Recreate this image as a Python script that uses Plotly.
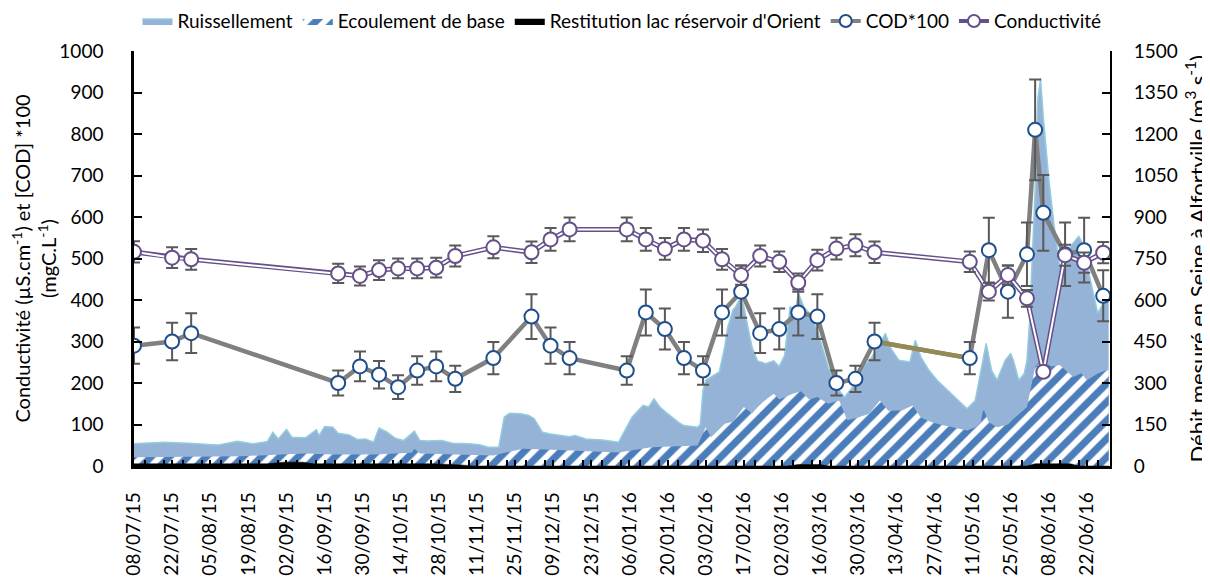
import plotly.graph_objects as go

# ---------------- data ----------------
# Weekly sampling campaigns
dates_cod = ["2015-07-08", "2015-07-22", "2015-07-29", "2015-09-21", "2015-09-29", "2015-10-06",
             "2015-10-13", "2015-10-20", "2015-10-27", "2015-11-03", "2015-11-17", "2015-12-01",
             "2015-12-08", "2015-12-15", "2016-01-05", "2016-01-12", "2016-01-19", "2016-01-26",
             "2016-02-02", "2016-02-09", "2016-02-16", "2016-02-23", "2016-03-01", "2016-03-08",
             "2016-03-15", "2016-03-22", "2016-03-29", "2016-04-05", "2016-05-10", "2016-05-17",
             "2016-05-24", "2016-05-31", "2016-06-03", "2016-06-06", "2016-06-14", "2016-06-21",
             "2016-06-28"]
cod_x100 = [290, 300, 320, 200, 240, 220, 190, 230, 240, 210, 260, 360, 290, 260, 230, 370, 330, 260,
            230, 370, 420, 320, 330, 370, 360, 200, 210, 300, 260, 520, 420, 510, 810, 610, 510, 520, 410]

dates_cond = ["2015-07-08", "2015-07-22", "2015-07-29", "2015-09-21", "2015-09-29", "2015-10-06",
              "2015-10-13", "2015-10-20", "2015-10-27", "2015-11-03", "2015-11-17", "2015-12-01",
              "2015-12-08", "2015-12-15", "2016-01-05", "2016-01-12", "2016-01-19", "2016-01-26",
              "2016-02-02", "2016-02-09", "2016-02-16", "2016-02-23", "2016-03-01", "2016-03-08",
              "2016-03-15", "2016-03-22", "2016-03-29", "2016-04-05", "2016-05-10", "2016-05-17",
              "2016-05-24", "2016-05-31", "2016-06-06", "2016-06-14", "2016-06-21", "2016-06-28"]
conductivite = [516, 502, 498, 464, 458, 472, 476, 476, 478, 506, 527, 515, 546, 570, 570, 546, 523, 546,
                543, 498, 460, 506, 492, 442, 496, 524, 532, 515, 492, 420, 460, 404, 227, 508, 490, 514]

# Measured discharge of the Seine at Alfortville (top of the stacked areas, m3/s)
dates_debit = ["2015-07-08", "2015-07-19", "2015-07-28", "2015-08-08", "2015-08-15", "2015-08-21",
               "2015-08-26", "2015-08-28", "2015-08-30", "2015-09-02", "2015-09-04", "2015-09-09",
               "2015-09-13", "2015-09-14", "2015-09-16", "2015-09-19", "2015-09-21", "2015-09-25",
               "2015-09-28", "2015-10-01", "2015-10-04", "2015-10-06", "2015-10-09", "2015-10-12",
               "2015-10-15", "2015-10-19", "2015-10-21", "2015-10-24", "2015-10-29", "2015-11-02",
               "2015-11-08", "2015-11-12", "2015-11-15", "2015-11-19", "2015-11-21", "2015-11-23",
               "2015-11-27", "2015-11-30", "2015-12-02", "2015-12-05", "2015-12-08", "2015-12-15",
               "2015-12-17", "2015-12-21", "2015-12-27", "2016-01-02", "2016-01-07", "2016-01-11",
               "2016-01-13", "2016-01-15", "2016-01-17", "2016-01-20", "2016-01-24", "2016-01-26",
               "2016-01-31", "2016-02-01", "2016-02-02", "2016-02-03", "2016-02-05", "2016-02-08",
               "2016-02-10", "2016-02-11", "2016-02-13", "2016-02-14", "2016-02-16", "2016-02-17",
               "2016-02-20", "2016-02-22", "2016-02-25", "2016-02-28", "2016-03-01", "2016-03-03",
               "2016-03-05", "2016-03-07", "2016-03-08", "2016-03-10", "2016-03-12", "2016-03-15",
               "2016-03-19", "2016-03-23", "2016-03-25", "2016-03-27", "2016-03-30", "2016-04-01",
               "2016-04-04", "2016-04-06", "2016-04-09", "2016-04-11", "2016-04-14", "2016-04-18",
               "2016-04-20", "2016-04-22", "2016-04-25", "2016-04-28", "2016-05-02", "2016-05-06",
               "2016-05-09", "2016-05-12", "2016-05-14", "2016-05-16", "2016-05-18", "2016-05-20",
               "2016-05-23", "2016-05-25", "2016-05-26", "2016-05-28", "2016-05-30", "2016-05-31",
               "2016-06-01", "2016-06-03", "2016-06-04", "2016-06-05", "2016-06-06", "2016-06-08",
               "2016-06-10", "2016-06-12", "2016-06-14", "2016-06-16", "2016-06-19", "2016-06-21",
               "2016-06-23", "2016-06-26", "2016-06-28", "2016-06-29", "2016-06-30"]
debit_mesure = [80, 86, 82, 76, 89, 80,
                89, 122, 98, 132, 104, 102,
                131, 110, 143, 140, 118, 112,
                96, 98, 86, 137, 122, 100,
                92, 126, 92, 90, 92, 82,
                80, 77, 68, 68, 177, 191,
                189, 183, 171, 122, 116, 106,
                110, 98, 94, 86, 177, 219,
                213, 243, 215, 189, 158, 146,
                140, 150, 273, 310, 322, 340,
                431, 498, 564, 576, 612, 576,
                430, 380, 370, 380, 360, 400,
                576, 560, 625, 576, 552, 491,
                358, 273, 249, 273, 310, 358,
                394, 425, 479, 425, 382, 376,
                455, 394, 346, 310, 273, 237,
                207, 237, 334, 443, 346, 310,
                382, 407, 382, 310, 334, 382,
                528, 1000, 1327, 1400, 1260, 1040,
                866, 721, 746, 794, 830, 794,
                685, 552, 588, 625, 630]

# Top of the base-flow layer (Ecoulement de base, m3/s)
dates_base = ["2015-07-08", "2015-07-28", "2015-08-16", "2015-08-31", "2015-09-09", "2015-09-19",
              "2015-10-04", "2015-10-18", "2015-10-19", "2015-10-21", "2015-11-02", "2015-11-17",
              "2015-11-22", "2015-11-28", "2015-12-11", "2016-01-02", "2016-01-14", "2016-01-26",
              "2016-01-31", "2016-02-03", "2016-02-05", "2016-02-10", "2016-02-13", "2016-02-17",
              "2016-02-20", "2016-02-23", "2016-02-28", "2016-03-01", "2016-03-06", "2016-03-09",
              "2016-03-12", "2016-03-15", "2016-03-19", "2016-03-23", "2016-03-26", "2016-03-30",
              "2016-04-03", "2016-04-07", "2016-04-10", "2016-04-15", "2016-04-19", "2016-04-22",
              "2016-04-26", "2016-04-29", "2016-05-04", "2016-05-09", "2016-05-12", "2016-05-14",
              "2016-05-15", "2016-05-17", "2016-05-20", "2016-05-24", "2016-05-26", "2016-05-31",
              "2016-06-03", "2016-06-05", "2016-06-09", "2016-06-12", "2016-06-17", "2016-06-20",
              "2016-06-22", "2016-06-26", "2016-06-29", "2016-06-30"]
ecoulement_base = [32, 33, 35, 42, 45, 42,
                   42, 48, 62, 45, 42, 38,
                   50, 62, 58, 49, 68, 74,
                   74, 140, 104, 153, 160, 213,
                   190, 225, 261, 240, 261, 270,
                   240, 249, 225, 237, 165, 175,
                   189, 237, 200, 201, 219, 175,
                   158, 150, 140, 128, 140, 158,
                   207, 158, 140, 150, 170, 213,
                   358, 382, 360, 365, 322, 335,
                   310, 334, 346, 346]

# Release from the Orient reservoir lake (m3/s)
dates_restitution = ["2015-07-08", "2015-08-26", "2015-09-01", "2015-09-08", "2015-09-12", "2015-10-26",
                     "2015-11-05", "2015-11-10", "2016-03-04", "2016-03-08", "2016-03-16", "2016-03-19",
                     "2016-05-31", "2016-06-03", "2016-06-16", "2016-06-19", "2016-06-30"]
restitution_lac = [8, 8, 14, 14, 8, 8,
                   4, 0, 0, 5, 5, 0,
                   0, 8, 8, 0, 0]

# ---------------- styles ----------------
FONT = "Lato"
C_RUISS = "#95B3D7"
C_RUISS_LINE = "#93CDDD"
C_BASE = "#4A7DBA"
C_COD = "#808080"
C_COD_MK = "#1F4E8C"
C_OLIVE = "#948A54"
C_COND = "#66508A"
C_ERR = "#595959"
DAY = 24 * 3600 * 1000

fig = go.Figure()

# Areas (right axis -> yaxis 'y', drawn below the lines)
fig.add_trace(go.Scatter(x=dates_debit, y=debit_mesure, name="Ruissellement", mode="lines",
                         fill="tozeroy", fillcolor=C_RUISS,
                         line=dict(color=C_RUISS_LINE, width=1.5), yaxis="y", legendrank=1))
fig.add_trace(go.Scatter(x=dates_base, y=ecoulement_base, name="Ecoulement de base", mode="lines",
                         fill="tozeroy", fillcolor="white",
                         fillpattern=dict(shape="/", fgcolor=C_BASE, bgcolor="white", fgopacity=1,
                                          size=13, solidity=0.55),
                         line=dict(width=0), yaxis="y", legendrank=2))
fig.add_trace(go.Scatter(x=dates_restitution, y=restitution_lac, name="Restitution lac réservoir d'Orient",
                         mode="lines", fill="tozeroy", fillcolor="black",
                         line=dict(color="black", width=0.5), yaxis="y", legendrank=3))

# COD*100 (left axis -> yaxis2)
fig.add_trace(go.Scatter(x=dates_cod, y=cod_x100, mode="lines", line=dict(color=C_COD, width=4.5),
                         yaxis="y2", showlegend=False, hoverinfo="skip"))
fig.add_trace(go.Scatter(x=dates_cod[27:29], y=cod_x100[27:29], mode="lines",
                         line=dict(color=C_OLIVE, width=4.5), yaxis="y2", showlegend=False, hoverinfo="skip"))
fig.add_trace(go.Scatter(x=dates_cod, y=cod_x100, mode="markers", yaxis="y2", showlegend=False,
                         marker=dict(symbol="circle", size=14, color="white", line=dict(color=C_COD_MK, width=2)),
                         error_y=dict(type="percent", value=15, color=C_ERR, thickness=2, width=6)))
fig.add_trace(go.Scatter(x=[None], y=[None], name="COD*100", mode="lines+markers", yaxis="y2",
                         line=dict(color=C_COD, width=4),
                         marker=dict(symbol="circle", size=12, color="white", line=dict(color=C_COD_MK, width=2)),
                         legendrank=4))

# Conductivité (double line)
fig.add_trace(go.Scatter(x=dates_cond, y=conductivite, mode="lines", line=dict(color=C_COND, width=5),
                         yaxis="y2", showlegend=False, hoverinfo="skip"))
fig.add_trace(go.Scatter(x=dates_cond, y=conductivite, mode="lines", line=dict(color="white", width=2),
                         yaxis="y2", showlegend=False, hoverinfo="skip"))
fig.add_trace(go.Scatter(x=dates_cond, y=conductivite, mode="markers", yaxis="y2", showlegend=False,
                         marker=dict(symbol="circle", size=14, color="white", line=dict(color=C_COND, width=2)),
                         error_y=dict(type="percent", value=5, color=C_ERR, thickness=2, width=6)))
fig.add_trace(go.Scatter(x=[None], y=[None], name="Conductivité", mode="lines+markers", yaxis="y2",
                         line=dict(color=C_COND, width=4),
                         marker=dict(symbol="circle", size=12, color="white", line=dict(color=C_COND, width=2)),
                         legendrank=5))

# page body adds an 8 px margin: the figure is sized to fit the 1210x577 window
fig.update_layout(
    width=1202, height=569,
    margin=dict(l=126, r=100, t=43, b=111, autoexpand=False),
    paper_bgcolor="white", plot_bgcolor="white",
    font=dict(family=FONT, size=19, color="black"),
    showlegend=True,
    legend=dict(orientation="h", x=0.5, xanchor="center", y=1.072, yanchor="middle",
                font=dict(family=FONT, size=19), bgcolor="rgba(0,0,0,0)", traceorder="normal"),
    xaxis=dict(type="date", range=["2015-07-08", "2016-06-30 12:00"],
               tick0="2015-07-08", dtick=14 * DAY, tickformat="%d/%m/%y", tickangle=-90,
               ticks="inside", ticklen=6, tickwidth=2, tickcolor="black",
               minor=dict(dtick=7 * DAY, ticks="inside", ticklen=6, tickwidth=1.5, tickcolor="black"),
               showline=True, linecolor="black", linewidth=2.5, showgrid=False, zeroline=False,
               ticklabelstandoff=16, tickfont=dict(size=19)),
    yaxis=dict(side="right", range=[0, 1500], dtick=150, tick0=0,
               ticks="inside", ticklen=8, tickwidth=2, tickcolor="black",
               showline=True, linecolor="black", linewidth=2, showgrid=False, zeroline=False,
               ticklabelstandoff=18),
    yaxis2=dict(side="left", overlaying="y", range=[0, 1000], dtick=100, tick0=0,
                ticks="inside", ticklen=8, tickwidth=2, tickcolor="black",
                showline=True, linecolor="black", linewidth=2.5, showgrid=False, zeroline=False,
                ticklabelstandoff=24,
                title=dict(text="Conductivité (µS.cm<sup>-1</sup>) et [COD] *100<br>(mgC.L<sup>-1</sup>)",
                           standoff=6, font=dict(size=20))),
    annotations=[dict(text="Débit mesuré en Seine à Alfortville (m<sup>3</sup>.s<sup>-1</sup>)",
                      xref="paper", yref="paper", x=1.0881, y=0.5, xanchor="center", yanchor="middle",
                      textangle=-90, showarrow=False, font=dict(family=FONT, size=22))],
)

fig.write_html("out.html")
